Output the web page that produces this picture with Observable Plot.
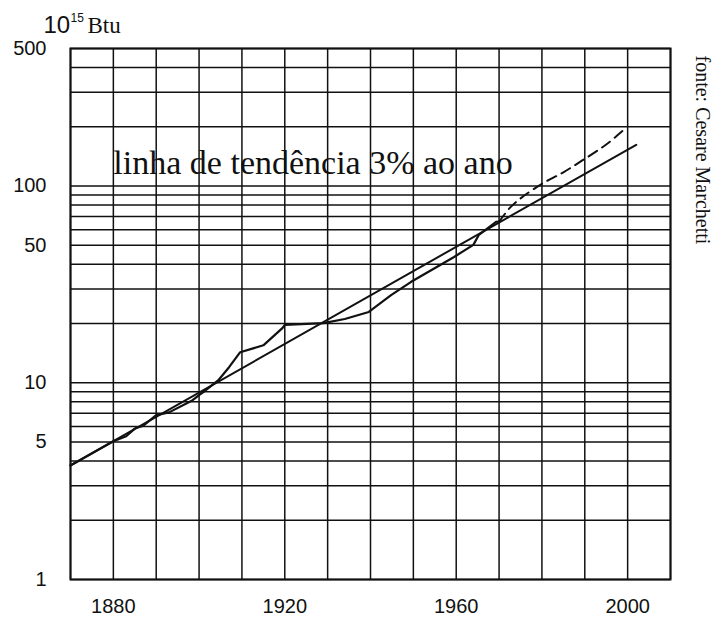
<!DOCTYPE html>
<html><head><meta charset="utf-8">
<script src="https://cdn.jsdelivr.net/npm/d3@7"></script>
<script src="https://cdn.jsdelivr.net/npm/@observablehq/plot@0.6"></script>
<style>body{margin:0;background:#fff}</style>
</head><body><div id="chart"></div>
<script>
// Actual world energy consumption (10^15 Btu)
const actualYears  = [1870, 1880, 1883, 1885, 1887, 1890, 1893, 1898.5, 1900, 1901, 1904.5, 1907, 1909.6, 1915, 1919.5, 1920, 1929, 1934, 1939.6, 1944.8, 1949.4, 1959.5, 1964, 1965.3, 1969.3, 1970];
const actualValues = [3.8,  5.04, 5.35, 5.85, 6.05, 6.84, 7.07, 8.15,   8.65, 8.96, 10.3,   12.0, 14.3,   15.5, 19.0,   19.7, 20.1, 21.1, 22.9,   27.9,   32.5,   43.6,   50.2, 56.5,   65.8,   66];
// Projection (dashed)
const projYears  = [1970, 1972.5, 1975, 1980,  1985,  1990,  1995,  1999.4];
const projValues = [65.8, 77.4,   86.5, 102.6, 117.4, 137.5, 162.5, 195.5];
// Trend line 3% per year
const trendYears  = [1870, 2002];
const trendValues = [3.8,  162];

const xTicks = [1880, 1920, 1960, 2000];
const yTicks = [1, 5, 10, 50, 100, 500];
const xGrid = [1870, 1880, 1890, 1900, 1910, 1920, 1930, 1940, 1950, 1960, 1970, 1980, 1990, 2000, 2010];
const yGrid = [1, 2, 3, 4, 5, 6, 7, 8, 9, 10, 20, 30, 40, 50, 60, 70, 80, 90, 100, 200, 300, 400, 500];

const annotation = "linha de tendência 3% ao ano";
const source = "fonte: Cesare Marchetti";

const actual = actualYears.map((y, i) => ({year: y, value: actualValues[i]}));
const proj = projYears.map((y, i) => ({year: y, value: projValues[i]}));
const trend = trendYears.map((y, i) => ({year: y, value: trendValues[i]}));

const ink = "#111";
const serif = "Liberation Serif, Times New Roman, serif";
const sans = "Liberation Sans, Arial, sans-serif";

const chart = Plot.plot({
  width: 714, height: 618,
  marginTop: 48, marginBottom: 39, marginLeft: 70, marginRight: 44,
  style: {fontFamily: sans, fontSize: "20px", background: "#fff", color: ink},
  x: {domain: [1870, 2010], label: null},
  y: {type: "log", domain: [1, 500], label: null},
  marks: [
    Plot.ruleY(yGrid, {stroke: ink, strokeWidth: 1.5}),
    Plot.ruleX(xGrid, {stroke: ink, strokeWidth: 1.5}),
    Plot.frame({stroke: ink, strokeWidth: 2}),
    Plot.axisX(xTicks, {tickSize: 0, tickPadding: 19, tickFormat: "d", fontSize: 20, label: null}),
    Plot.axisY(yTicks, {tickSize: 0, tickPadding: 24, tickFormat: "d", fontSize: 20, label: null}),
    Plot.line(trend, {x: "year", y: "value", stroke: ink, strokeWidth: 2}),
    Plot.line(actual, {x: "year", y: "value", stroke: ink, strokeWidth: 2.2, curve: "linear"}),
    Plot.line(proj, {x: "year", y: "value", stroke: ink, strokeWidth: 2, strokeDasharray: "10,6", curve: "catmull-rom"}),
    Plot.text([annotation], {x: 1880, y: 130, text: d => d, textAnchor: "start", lineAnchor: "middle", fontFamily: serif, fontSize: 34, fill: ink}),
    Plot.text(["10"], {frameAnchor: "top-left", text: d => d, textAnchor: "start", lineAnchor: "middle", dx: -27, dy: -23.5, fontFamily: sans, fontSize: 24, fill: ink}),
    Plot.text(["15"], {frameAnchor: "top-left", text: d => d, textAnchor: "start", lineAnchor: "middle", dx: 0, dy: -30, fontFamily: sans, fontSize: 12, fill: ink}),
    Plot.text(["Btu"], {frameAnchor: "top-left", text: d => d, textAnchor: "start", lineAnchor: "middle", dx: 17, dy: -23, fontFamily: serif, fontSize: 23, fill: ink}),
    Plot.text([source], {frameAnchor: "top-right", text: d => d, rotate: 90, textAnchor: "start", lineAnchor: "middle", dx: 32, dy: 7, fontFamily: serif, fontSize: 20, fill: ink})
  ]
});
document.getElementById("chart").appendChild(chart);
</script>
</body></html>
